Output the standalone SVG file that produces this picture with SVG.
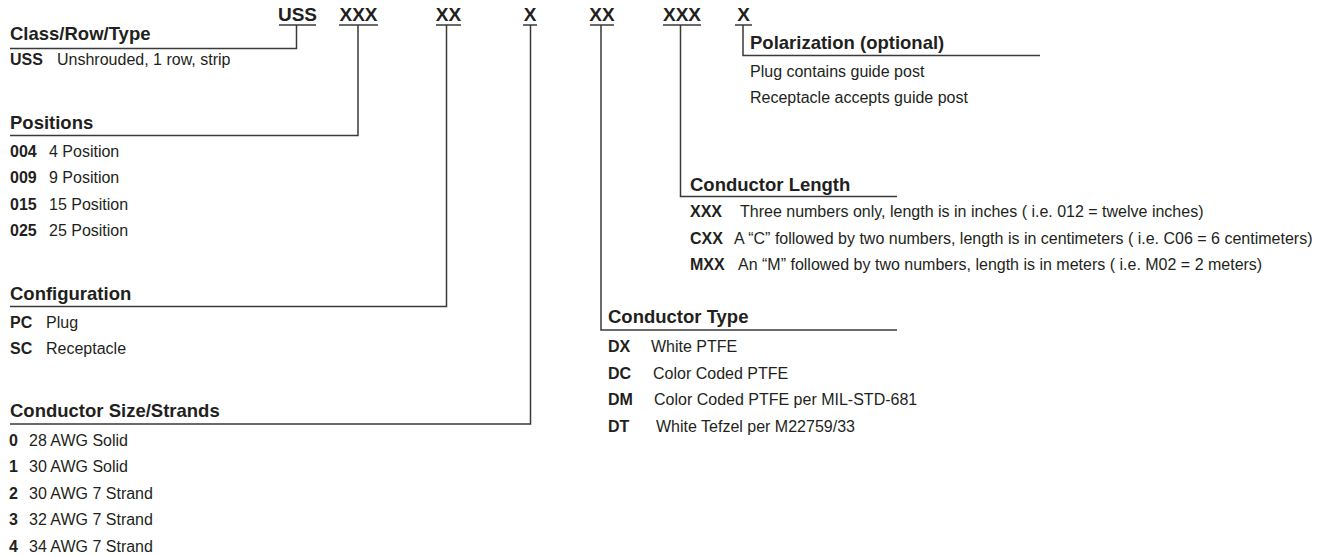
<svg xmlns="http://www.w3.org/2000/svg" width="1325" height="556" viewBox="0 0 1325 556">
<style>
text{font-family:"Liberation Sans",Arial,Helvetica,sans-serif;fill:#231f20}
.code{font-size:19px;font-weight:bold;text-anchor:middle}
.h{font-size:18.5px;font-weight:bold}
.b{font-size:16px;font-weight:bold}
.t{font-size:16px}
.ln{stroke:#3a3a3a;stroke-width:1.5;fill:none}
</style>
<rect width="1325" height="556" fill="#ffffff"/>
<g id="codes">
<text class="code" x="297.5" y="21">USS</text>
<text class="code" x="358.5" y="21">XXX</text>
<text class="code" x="448.5" y="21">XX</text>
<text class="code" x="530" y="21">X</text>
<text class="code" x="602" y="21">XX</text>
<text class="code" x="682" y="21">XXX</text>
<text class="code" x="743.5" y="21">X</text>
</g>
<g id="connectors" class="ln">
<path d="M279 25H316M339 25H378M436 25H461M523 25H537M590 25H614M663 25H701M735 25H752"/>
<path d="M296.5 25V48.5H10"/>
<path d="M358 25V135.5H10"/>
<path d="M446.5 25V306.5H10"/>
<path d="M530.5 25V424H10"/>
<path d="M601 25V330H897"/>
<path d="M680.5 25V196.5H897"/>
<path d="M743 25V55.5H1040"/>
</g>
<g id="class-row-type">
<text class="h" x="10" y="40">Class/Row/Type</text>
<text class="b" x="10" y="64.5">USS</text><text class="t" x="57" y="64.5">Unshrouded, 1 row, strip</text>
</g>
<g id="positions">
<text class="h" x="10" y="128.5">Positions</text>
<text class="b" x="10" y="157">004</text><text class="t" x="49" y="157">4 Position</text>
<text class="b" x="10" y="183">009</text><text class="t" x="49" y="183">9 Position</text>
<text class="b" x="10" y="209.5">015</text><text class="t" x="49" y="209.5">15 Position</text>
<text class="b" x="10" y="236">025</text><text class="t" x="49" y="236">25 Position</text>
</g>
<g id="configuration">
<text class="h" x="10" y="300">Configuration</text>
<text class="b" x="10" y="328">PC</text><text class="t" x="46" y="328">Plug</text>
<text class="b" x="10" y="353.5">SC</text><text class="t" x="46" y="353.5">Receptacle</text>
</g>
<g id="conductor-size">
<text class="h" x="10" y="416.5">Conductor Size/Strands</text>
<text class="b" x="9" y="446">0</text><text class="t" x="29" y="446">28 AWG Solid</text>
<text class="b" x="9" y="472">1</text><text class="t" x="29" y="472">30 AWG Solid</text>
<text class="b" x="9" y="498.5">2</text><text class="t" x="29" y="498.5">30 AWG 7 Strand</text>
<text class="b" x="9" y="525">3</text><text class="t" x="29" y="525">32 AWG 7 Strand</text>
<text class="b" x="9" y="551.5">4</text><text class="t" x="29" y="551.5">34 AWG 7 Strand</text>
</g>
<g id="conductor-type">
<text class="h" x="608" y="323">Conductor Type</text>
<text class="b" x="608" y="352">DX</text><text class="t" x="651" y="352">White PTFE</text>
<text class="b" x="608" y="378.5">DC</text><text class="t" x="653" y="378.5">Color Coded PTFE</text>
<text class="b" x="608" y="405">DM</text><text class="t" x="654" y="405">Color Coded PTFE per MIL-STD-681</text>
<text class="b" x="608" y="432">DT</text><text class="t" x="656" y="432">White Tefzel per M22759/33</text>
</g>
<g id="conductor-length">
<text class="h" x="690" y="191">Conductor Length</text>
<text class="b" x="690" y="217">XXX</text><text class="t" x="740" y="217">Three numbers only, length is in inches ( i.e. 012 = twelve inches)</text>
<text class="b" x="690" y="243.5">CXX</text><text class="t" x="734" y="243.5">A “C” followed by two numbers, length is in centimeters ( i.e. C06 = 6 centimeters)</text>
<text class="b" x="690" y="270">MXX</text><text class="t" x="738" y="270">An “M” followed by two numbers, length is in meters ( i.e. M02 = 2 meters)</text>
</g>
<g id="polarization">
<text class="h" x="750" y="48.5">Polarization (optional)</text>
<text class="t" x="750" y="76.5">Plug contains guide post</text>
<text class="t" x="750" y="102.5">Receptacle accepts guide post</text>
</g>
</svg>
